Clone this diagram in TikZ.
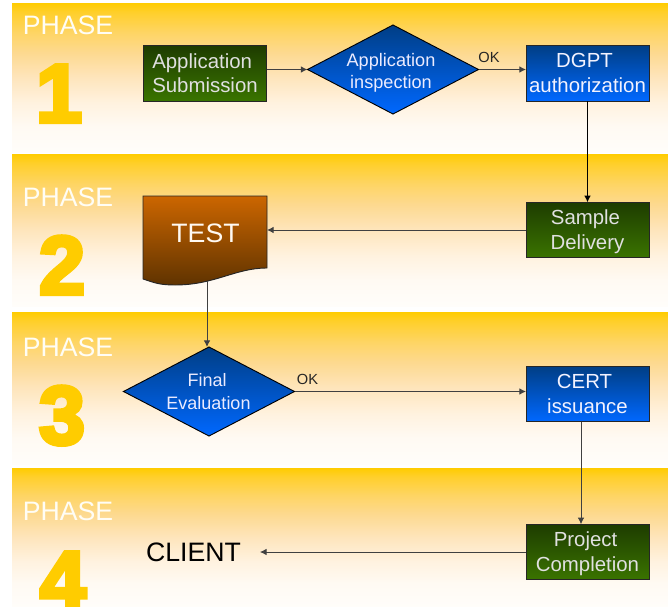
\documentclass[tikz,border=0pt]{standalone}
\usepackage{fontspec}
\setmainfont{Liberation Sans}
\newfontfamily\digitfont[FakeBold=5]{Liberation Sans Bold}
\usetikzlibrary{shapes.geometric,arrows.meta}
\newcommand\nodepth[1]{\raisebox{0pt}[\height][0pt]{#1}}
\definecolor{gtop}{HTML}{1E3C00}
\definecolor{gbot}{HTML}{3A7400}
\definecolor{btop}{HTML}{003E85}
\definecolor{bbot}{HTML}{0068FF}
\definecolor{otop}{HTML}{CC6600}
\definecolor{obot}{HTML}{5F3300}
\definecolor{phasewhite}{HTML}{FFFDF5}
\definecolor{digitc}{HTML}{FFCC00}
\definecolor{bs0}{HTML}{FFCC00}
\definecolor{bs1}{HTML}{FFCF2A}
\definecolor{bs2}{HTML}{FED565}
\definecolor{bs3}{HTML}{FDD98F}
\definecolor{bs4}{HTML}{FEE5BC}
\definecolor{bs5}{HTML}{FFF2DF}
\definecolor{bs6}{HTML}{FFFAF3}
\definecolor{bs7}{HTML}{FFFDFA}
\pgfdeclareverticalshading{bandshade}{100bp}{
  color(0bp)=(bs7); color(25bp)=(bs7); color(33.5bp)=(bs6); color(41.5bp)=(bs5);
  color(50bp)=(bs4); color(58.5bp)=(bs3); color(65bp)=(bs2); color(72bp)=(bs1);
  color(75bp)=(bs0); color(100bp)=(bs0)}
\tikzset{
  x=0.75pt,y=-0.75pt,
  band/.style={shading=bandshade,draw=none},
  phasetxt/.style={text=phasewhite,font=\fontsize{20}{24}\selectfont,inner sep=0pt},
  digit/.style={text=digitc,font=\digitfont\fontsize{62}{62}\selectfont,inner sep=0pt,anchor=base},
  greenbox/.style={draw=black!85,line width=0.7pt,top color=gtop,bottom color=gbot,minimum width=92.25pt,minimum height=41.6pt,inner sep=0pt,outer sep=0pt,text=white!88!black,align=center,font=\fontsize{15.3}{18.6}\selectfont},
  bluebox/.style={greenbox,top color=btop,bottom color=bbot,text=white!95!blue},
  bluediamond/.style={diamond,aspect=1.92,draw=black,line width=0.7pt,top color=btop,bottom color=bbot,minimum width=128.25pt,minimum height=66.75pt,inner sep=0pt,outer sep=0pt},
  dtext/.style={text=white!92!blue,align=center,inner sep=0pt},
  oktxt/.style={text=black!85,font=\fontsize{11}{13}\selectfont,inner sep=0pt},
  flow/.style={draw=black!75,line width=0.75pt,-{Latex[length=5pt,width=5pt]}},
}
\begin{document}
\begin{tikzpicture}
\useasboundingbox (0,0) rectangle (668,607);
\clip (0,0) rectangle (668,607);
\path[band] (12,3) rectangle (668,152);
\path[band] (12,154) rectangle (668,306);
\path[band] (12,312) rectangle (668,464);
\path[band] (12,468) rectangle (668,607);

\node[phasetxt] (p1) at (68,25) {PHASE};
\node[phasetxt] (p2) at (68,197) {PHASE};
\node[phasetxt] (p3) at (68,347) {PHASE};
\node[phasetxt] (p4) at (68,511) {PHASE};
\node[digit] (n1) at (59,122) {1};
\node[digit] (n2) at (62,294) {2};
\node[digit] (n3) at (62,444) {3};
\node[digit] (n4) at (63,609) {4};

\node[greenbox,align=left] (app) at (205,73.3) {Application\\Submission};
\node[bluediamond] (d1) at (393,69.5) {};
\node[dtext,font=\fontsize{13.6}{16.5}\selectfont] (d1t) at (391,72.5) {Application\\inspection};
\node[bluebox] (dgpt) at (587.5,73.3) {\hspace*{-4.5pt}DGPT\\authorization};
\node[greenbox] (sample) at (587.5,230) {\hspace*{-3pt}Sample\\\nodepth{Delivery}};

\path[draw=black!85,line width=0.7pt,top color=otop,bottom color=obot]
  (143,196) -- (267,196) -- (267,268)
  .. controls (235,268) and (215,285) .. (175,285)
  .. controls (160,285) and (155,283) .. (143,279) -- cycle;
\node[text=white!95!orange,font=\fontsize{20}{24}\selectfont,inner sep=0pt] (test) at (205.5,233) {TEST};
\coordinate (teste) at (267,230);
\coordinate (testb) at (207,281);

\node[bluediamond] (d2) at (209,391.5) {};
\node[dtext,font=\fontsize{13.5}{17}\selectfont] (d2t) at (208.5,391.5) {\hspace*{-2pt}Final\\Evaluation};
\node[bluebox] (cert) at (587.5,394) {\hspace*{-4.5pt}CERT\\issuance};
\node[greenbox] (proj) at (587.5,552) {\hspace*{-3pt}Project\\\nodepth{Completion}};
\node[text=black,font=\fontsize{20}{24}\selectfont,inner xsep=14.25pt,inner ysep=0pt,outer sep=0pt] (client) at (193.5,552) {CLIENT};

\node[oktxt] (ok1) at (489,57) {OK};
\node[oktxt] (ok2) at (307.5,379) {OK};

\draw[flow] (d1.west -| app.east) -- (d1.west);
\draw[flow] (d1.east) -- (d1.east -| dgpt.west);
\draw[flow,draw=black] (dgpt.south) -- (sample.north);
\draw[flow] (sample.west) -- (teste);
\draw[flow] (testb) -- (testb |- d2.north);
\draw[flow] (d2.east) -- (d2.east -| cert.west);
\draw[flow] (cert.south -| 581,0) -- (proj.north -| 581,0);
\draw[flow] (proj.west) -- (client.east);
\end{tikzpicture}
\end{document}
